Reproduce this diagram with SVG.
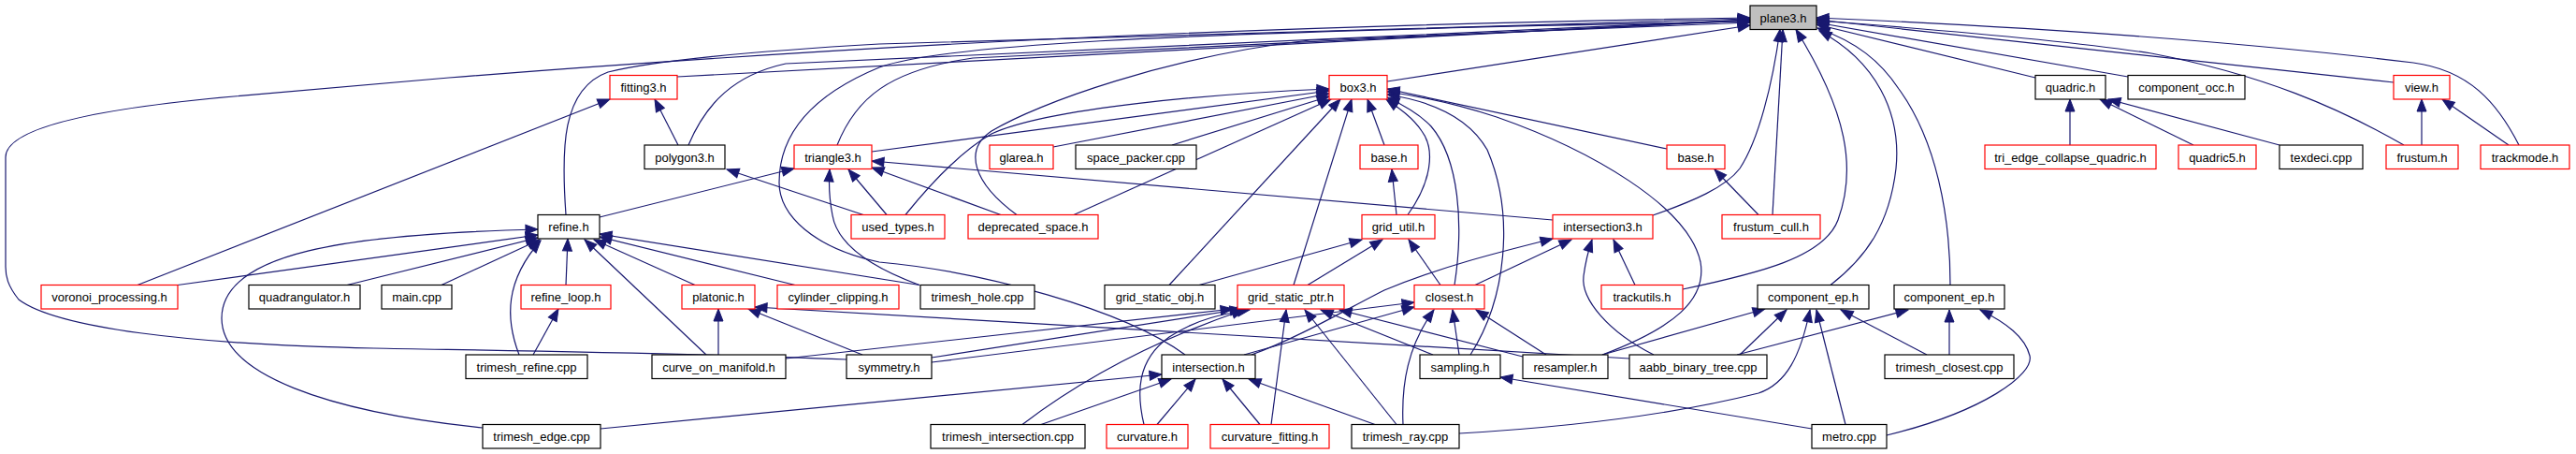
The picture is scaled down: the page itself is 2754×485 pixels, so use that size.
<svg xmlns="http://www.w3.org/2000/svg" width="2754" height="485" viewBox="0 0 2754 485">
<style>
.e{fill:none;stroke:#191970;stroke-width:1.2;marker-end:url(#a)}
.n rect{fill:#fff;stroke:#000;stroke-width:1.2}
.r rect{stroke:#ff0000}
.g rect{fill:#bfbfbf}
text{font-family:"Liberation Sans",Arial,sans-serif;font-size:13px;fill:#000;text-anchor:middle}
</style>
<defs>
<marker id="a" markerUnits="userSpaceOnUse" markerWidth="13" markerHeight="10" refX="13" refY="5" orient="auto" overflow="visible">
<path d="M0,0 L13,5 L0,10 z" fill="#191970" stroke="#191970" stroke-width="1"/>
</marker>
</defs>
<rect width="2754" height="485" fill="#fff"/>
<g id="edges">
<path class="e" d="M724,82 L1871,21"/>
<path class="e" d="M736,155 C755,110 785,80 840,68 L1871,21"/>
<path class="e" d="M895,155 C915,105 950,75 1040,62 L1871,22"/>
<path class="e" d="M605,229.5 C600,160 600,95 650,77 C700,65 800,55 940,47 L1871,20"/>
<path class="e" d="M1483,87 L1871,27"/>
<path class="e" d="M905,384 C700,376 500,374 400,372 C200,368 60,350 20,320 C8,305 6,295 6,285 L6,168 C6,140 80,118 250,103 L480,83 C900,50 1300,28 1871,19"/>
<path class="e" d="M1267,379 C1200,330 1050,290 940,280 C870,265 833,230 833,195 C833,150 860,105 940,72 C1000,50 1200,35 1871,23"/>
<path class="e" d="M1087,229.5 C1040,195 1030,160 1060,140 C1110,110 1250,60 1400,43 L1871,24"/>
<path class="e" d="M1767,230 C1810,215 1845,200 1860,180 C1880,150 1895,90 1903,31.5"/>
<path class="e" d="M1895,229.5 L1906,31.5"/>
<path class="e" d="M1799,309 C1880,292 1950,275 1965,235 C1985,180 1975,120 1920,31.5"/>
<path class="e" d="M1957,304.5 C1995,275 2020,240 2027,180 C2033,120 2005,65 1945,33"/>
<path class="e" d="M2085,304.5 C2085,230 2070,150 2030,95 C2010,65 1985,45 1943,30"/>
<path class="e" d="M2176,83 L1942,26"/>
<path class="e" d="M2275,82 L1942,24"/>
<path class="e" d="M2559,88 L1942,21"/>
<path class="e" d="M2570,155 C2500,115 2420,80 2300,57 C2200,42 2050,30 1942,22"/>
<path class="e" d="M2693,155 C2670,110 2640,75 2580,67 C2400,45 2200,30 1942,19"/>
<path class="e" d="M932,162 L1421,97"/>
<path class="e" d="M1126,157 L1421,100"/>
<path class="e" d="M1253,155 L1421,103"/>
<path class="e" d="M968,229.5 C1000,190 1030,160 1060,143 C1120,115 1300,100 1421,95"/>
<path class="e" d="M1148,229.5 L1423,106"/>
<path class="e" d="M1250,304.5 L1433,106"/>
<path class="e" d="M1383,304.5 L1445,106"/>
<path class="e" d="M1480,155 L1462,106"/>
<path class="e" d="M1505,229.5 C1530,195 1535,160 1520,140 C1510,125 1495,115 1482,106"/>
<path class="e" d="M1555,304.5 C1565,240 1560,170 1530,135 C1518,122 1500,112 1483,104"/>
<path class="e" d="M1572,379 C1610,320 1620,230 1590,160 C1570,125 1530,108 1483,101"/>
<path class="e" d="M1713,379 C1790,350 1825,320 1818,280 C1805,220 1700,160 1600,125 C1560,112 1520,103 1483,98"/>
<path class="e" d="M1782,159 L1483,95"/>
<path class="e" d="M641,232 L849,180"/>
<path class="e" d="M948,229.5 L907,181"/>
<path class="e" d="M1070,229.5 L932,179"/>
<path class="e" d="M1660,235 L932,172"/>
<path class="e" d="M983,304.5 C930,285 895,260 890,230 C886,210 886,195 887,181"/>
<path class="e" d="M923,229.5 L777,181"/>
<path class="e" d="M725,155 L700,106"/>
<path class="e" d="M147,304.5 L652,106"/>
<path class="e" d="M190,304.5 L575,251"/>
<path class="e" d="M371,304.5 L575,254"/>
<path class="e" d="M472,304.5 L577,256"/>
<path class="e" d="M516,457 C350,440 237,400 237,340 C237,270 370,250 575,245"/>
<path class="e" d="M555,379 C540,340 540,300 578,257"/>
<path class="e" d="M605,304.5 L607,255"/>
<path class="e" d="M755,379 L625,256"/>
<path class="e" d="M743,304.5 L635,256"/>
<path class="e" d="M850,304.5 L641,253"/>
<path class="e" d="M983,304.5 L641,250"/>
<path class="e" d="M570,379 L597,330"/>
<path class="e" d="M768,379 L768,330"/>
<path class="e" d="M922,379 L800,330"/>
<path class="e" d="M1742,383 L807,328"/>
<path class="e" d="M840,383 L1318,330"/>
<path class="e" d="M996,382 L1328,330"/>
<path class="e" d="M1093,453.5 C1150,410 1230,365 1330,331"/>
<path class="e" d="M1223,453.5 C1215,420 1215,385 1250,360 C1280,340 1310,335 1336,331"/>
<path class="e" d="M1359,453.5 L1375,331"/>
<path class="e" d="M1493,453.5 L1395,331"/>
<path class="e" d="M1532,379 L1412,331"/>
<path class="e" d="M1628,381 L1432,331"/>
<path class="e" d="M1282,304.5 L1456,256"/>
<path class="e" d="M1398,304.5 L1478,256"/>
<path class="e" d="M1540,304.5 L1506,256"/>
<path class="e" d="M1493,229.5 L1488,181"/>
<path class="e" d="M996,387 L1512,323"/>
<path class="e" d="M1330,379 L1512,328"/>
<path class="e" d="M1500,453.5 C1498,410 1505,370 1533,331"/>
<path class="e" d="M1560,379 L1553,331"/>
<path class="e" d="M1653,379 L1578,331"/>
<path class="e" d="M1338,379 C1390,360 1440,330 1480,310 C1540,285 1600,270 1660,255"/>
<path class="e" d="M1577,304.5 L1680,256"/>
<path class="e" d="M1768,379 C1720,355 1690,320 1693,295 C1695,280 1698,268 1702,256"/>
<path class="e" d="M1748,304.5 L1725,256"/>
<path class="e" d="M1880,229.5 L1833,181"/>
<path class="e" d="M642,458 L1242,400"/>
<path class="e" d="M1113,453.5 L1252,405"/>
<path class="e" d="M1237,453.5 L1278,405"/>
<path class="e" d="M1347,453.5 L1307,405"/>
<path class="e" d="M1470,453.5 L1335,405"/>
<path class="e" d="M1937,458 L1604,403"/>
<path class="e" d="M1713,379 L1887,330"/>
<path class="e" d="M1860,379 L1910,331"/>
<path class="e" d="M1560,463 C1700,455 1800,440 1880,420 C1910,410 1925,380 1935,331"/>
<path class="e" d="M1973,453.5 L1942,331"/>
<path class="e" d="M2060,379 L1968,331"/>
<path class="e" d="M1857,379 L2040,331"/>
<path class="e" d="M2084,379 L2084,331"/>
<path class="e" d="M2017,465 C2120,440 2175,400 2170,380 C2165,360 2145,345 2117,331"/>
<path class="e" d="M2213,155 L2213,106"/>
<path class="e" d="M2345,155 L2245,106"/>
<path class="e" d="M2437,155 L2254,106"/>
<path class="e" d="M2589,155 L2589,106"/>
<path class="e" d="M2682,155 L2611,106"/>
</g>
<g id="plane3_h" class="n g"><rect x="1871" y="6" width="71" height="25.5"/><text x="1906.5" y="23.5">plane3.h</text></g>
<g id="fitting3_h" class="n r"><rect x="652" y="80.5" width="72" height="25.5"/><text x="688" y="98">fitting3.h</text></g>
<g id="box3_h" class="n r"><rect x="1421" y="80.5" width="62" height="25.5"/><text x="1452" y="98">box3.h</text></g>
<g id="quadric_h" class="n"><rect x="2176" y="80.5" width="75" height="25.5"/><text x="2213.5" y="98">quadric.h</text></g>
<g id="component_occ_h" class="n"><rect x="2275" y="80.5" width="125" height="25.5"/><text x="2337.5" y="98">component_occ.h</text></g>
<g id="view_h" class="n r"><rect x="2559" y="80.5" width="60" height="25.5"/><text x="2589" y="98">view.h</text></g>
<g id="polygon3_h" class="n"><rect x="689" y="155" width="86" height="25.5"/><text x="732" y="172.5">polygon3.h</text></g>
<g id="triangle3_h" class="n r"><rect x="849" y="155" width="83" height="25.5"/><text x="890.5" y="172.5">triangle3.h</text></g>
<g id="glarea_h" class="n r"><rect x="1058" y="155" width="68" height="25.5"/><text x="1092" y="172.5">glarea.h</text></g>
<g id="space_packer_cpp" class="n"><rect x="1150" y="155" width="129" height="25.5"/><text x="1214.5" y="172.5">space_packer.cpp</text></g>
<g id="base_h_1" class="n r"><rect x="1454" y="155" width="62" height="25.5"/><text x="1485" y="172.5">base.h</text></g>
<g id="base_h_2" class="n r"><rect x="1782" y="155" width="62" height="25.5"/><text x="1813" y="172.5">base.h</text></g>
<g id="tri_edge_collapse_quadric_h" class="n r"><rect x="2122" y="155" width="183" height="25.5"/><text x="2213.5" y="172.5">tri_edge_collapse_quadric.h</text></g>
<g id="quadric5_h" class="n r"><rect x="2329" y="155" width="83" height="25.5"/><text x="2370.5" y="172.5">quadric5.h</text></g>
<g id="texdeci_cpp" class="n"><rect x="2437" y="155" width="89" height="25.5"/><text x="2481.5" y="172.5">texdeci.cpp</text></g>
<g id="frustum_h" class="n r"><rect x="2551" y="155" width="77" height="25.5"/><text x="2589.5" y="172.5">frustum.h</text></g>
<g id="trackmode_h" class="n r"><rect x="2652" y="155" width="95" height="25.5"/><text x="2699.5" y="172.5">trackmode.h</text></g>
<g id="refine_h" class="n"><rect x="575" y="229.5" width="66" height="25.5"/><text x="608" y="247">refine.h</text></g>
<g id="used_types_h" class="n r"><rect x="910" y="229.5" width="100" height="25.5"/><text x="960" y="247">used_types.h</text></g>
<g id="deprecated_space_h" class="n r"><rect x="1035" y="229.5" width="139" height="25.5"/><text x="1104.5" y="247">deprecated_space.h</text></g>
<g id="grid_util_h" class="n r"><rect x="1456" y="229.5" width="78" height="25.5"/><text x="1495" y="247">grid_util.h</text></g>
<g id="intersection3_h" class="n r"><rect x="1660" y="229.5" width="107" height="25.5"/><text x="1713.5" y="247">intersection3.h</text></g>
<g id="frustum_cull_h" class="n r"><rect x="1841" y="229.5" width="105" height="25.5"/><text x="1893.5" y="247">frustum_cull.h</text></g>
<g id="voronoi_processing_h" class="n r"><rect x="44" y="304.5" width="146" height="25.5"/><text x="117" y="322">voronoi_processing.h</text></g>
<g id="quadrangulator_h" class="n"><rect x="266" y="304.5" width="119" height="25.5"/><text x="325.5" y="322">quadrangulator.h</text></g>
<g id="main_cpp" class="n"><rect x="408" y="304.5" width="75" height="25.5"/><text x="445.5" y="322">main.cpp</text></g>
<g id="refine_loop_h" class="n r"><rect x="557" y="304.5" width="96" height="25.5"/><text x="605" y="322">refine_loop.h</text></g>
<g id="platonic_h" class="n r"><rect x="729" y="304.5" width="78" height="25.5"/><text x="768" y="322">platonic.h</text></g>
<g id="cylinder_clipping_h" class="n r"><rect x="831" y="304.5" width="130" height="25.5"/><text x="896" y="322">cylinder_clipping.h</text></g>
<g id="trimesh_hole_cpp" class="n"><rect x="984" y="304.5" width="122" height="25.5"/><text x="1045" y="322">trimesh_hole.cpp</text></g>
<g id="grid_static_obj_h" class="n"><rect x="1181" y="304.5" width="118" height="25.5"/><text x="1240" y="322">grid_static_obj.h</text></g>
<g id="grid_static_ptr_h" class="n r"><rect x="1323" y="304.5" width="114" height="25.5"/><text x="1380" y="322">grid_static_ptr.h</text></g>
<g id="closest_h" class="n r"><rect x="1512" y="304.5" width="75" height="25.5"/><text x="1549.5" y="322">closest.h</text></g>
<g id="trackutils_h" class="n r"><rect x="1712" y="304.5" width="87" height="25.5"/><text x="1755.5" y="322">trackutils.h</text></g>
<g id="component_ep_h_1" class="n"><rect x="1879" y="304.5" width="119" height="25.5"/><text x="1938.5" y="322">component_ep.h</text></g>
<g id="component_ep_h_2" class="n"><rect x="2025" y="304.5" width="118" height="25.5"/><text x="2084" y="322">component_ep.h</text></g>
<g id="trimesh_refine_cpp" class="n"><rect x="498" y="379" width="130" height="25.5"/><text x="563" y="396.5">trimesh_refine.cpp</text></g>
<g id="curve_on_manifold_h" class="n"><rect x="697" y="379" width="143" height="25.5"/><text x="768.5" y="396.5">curve_on_manifold.h</text></g>
<g id="symmetry_h" class="n"><rect x="905" y="379" width="91" height="25.5"/><text x="950.5" y="396.5">symmetry.h</text></g>
<g id="intersection_h" class="n"><rect x="1242" y="379" width="100" height="25.5"/><text x="1292" y="396.5">intersection.h</text></g>
<g id="sampling_h" class="n"><rect x="1518" y="379" width="86" height="25.5"/><text x="1561" y="396.5">sampling.h</text></g>
<g id="resampler_h" class="n"><rect x="1628" y="379" width="91" height="25.5"/><text x="1673.5" y="396.5">resampler.h</text></g>
<g id="aabb_binary_tree_cpp" class="n"><rect x="1742" y="379" width="147" height="25.5"/><text x="1815.5" y="396.5">aabb_binary_tree.cpp</text></g>
<g id="trimesh_closest_cpp" class="n"><rect x="2015" y="379" width="138" height="25.5"/><text x="2084" y="396.5">trimesh_closest.cpp</text></g>
<g id="trimesh_edge_cpp" class="n"><rect x="516" y="453.5" width="126" height="25.5"/><text x="579" y="471">trimesh_edge.cpp</text></g>
<g id="trimesh_intersection_cpp" class="n"><rect x="995" y="453.5" width="165" height="25.5"/><text x="1077.5" y="471">trimesh_intersection.cpp</text></g>
<g id="curvature_h" class="n r"><rect x="1183" y="453.5" width="87" height="25.5"/><text x="1226.5" y="471">curvature.h</text></g>
<g id="curvature_fitting_h" class="n r"><rect x="1294" y="453.5" width="127" height="25.5"/><text x="1357.5" y="471">curvature_fitting.h</text></g>
<g id="trimesh_ray_cpp" class="n"><rect x="1445" y="453.5" width="115" height="25.5"/><text x="1502.5" y="471">trimesh_ray.cpp</text></g>
<g id="metro_cpp" class="n"><rect x="1937" y="453.5" width="80" height="25.5"/><text x="1977" y="471">metro.cpp</text></g>
</svg>
